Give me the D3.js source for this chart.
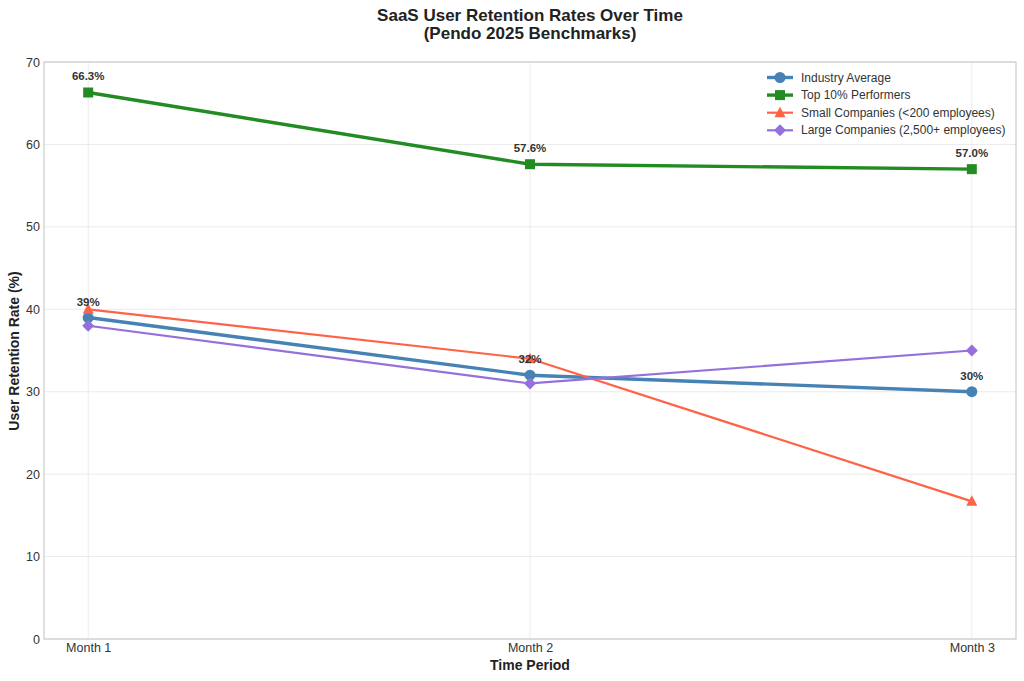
<!DOCTYPE html>
<html><head><meta charset="utf-8">
<script src="https://cdn.jsdelivr.net/npm/d3@7"></script>
<style>body{margin:0;background:#fff;}svg{display:block;font-family:"Liberation Sans",Arial,sans-serif;}</style>
</head><body><svg id="c" width="1024" height="681"></svg>
<script>
const categories = ["Month 1", "Month 2", "Month 3"];
const industryAvg = [39, 32, 30];
const top10 = [66.3, 57.6, 57.0];
const smallCo = [40, 34, 16.7];
const largeCo = [38, 31, 35];
const yTicks = [0, 10, 20, 30, 40, 50, 60, 70];
const seriesNames = ["Industry Average", "Top 10% Performers", "Small Companies (<200 employees)", "Large Companies (2,500+ employees)"];
const industryLabels = ["39%", "32%", "30%"];
const top10Labels = ["66.3%", "57.6%", "57.0%"];

const series = [
  {name: seriesNames[0], values: industryAvg, color: "#4682B4", width: 3.4, marker: "circle"},
  {name: seriesNames[1], values: top10, color: "#228B22", width: 3.4, marker: "square"},
  {name: seriesNames[2], values: smallCo, color: "#FF6347", width: 2.2, marker: "triangle"},
  {name: seriesNames[3], values: largeCo, color: "#9370DB", width: 2.2, marker: "diamond"}
];

const svg = d3.select("#c");
const L = 44, R = 1016, T = 62, B = 639;
const x = d3.scaleLinear().domain([-0.1, 2.1]).range([L, R]);
const y = d3.scaleLinear().domain([0, 70]).range([B, T]);

// grid
svg.append("g").selectAll("line").data(yTicks).join("line")
  .attr("x1", L).attr("x2", R).attr("y1", d => y(d)).attr("y2", d => y(d))
  .attr("stroke", "#ebebeb").attr("stroke-width", 1);
svg.append("g").selectAll("line").data(categories).join("line")
  .attr("x1", (d, i) => x(i)).attr("x2", (d, i) => x(i)).attr("y1", T).attr("y2", B)
  .attr("stroke", "#ebebeb").attr("stroke-width", 1);

// axes
const yAxis = d3.axisLeft(y).tickValues(yTicks).tickSize(0).tickPadding(4);
const gy = svg.append("g").attr("transform", `translate(${L},0)`).call(yAxis);
gy.select(".domain").remove();
gy.selectAll("text").attr("font-size", 12.5).attr("fill", "#333").attr("font-family", "Liberation Sans, Arial, sans-serif");
const xAxis = d3.axisBottom(x).tickValues([0, 1, 2]).tickFormat(i => categories[i]).tickSize(0).tickPadding(4);
const gx = svg.append("g").attr("transform", `translate(0,${B})`).call(xAxis);
gx.select(".domain").remove();
gx.selectAll("text").attr("font-size", 12.5).attr("fill", "#333").attr("font-family", "Liberation Sans, Arial, sans-serif");

// frame
svg.append("rect").attr("x", L).attr("y", T).attr("width", R - L).attr("height", B - T)
  .attr("fill", "none").attr("stroke", "#cccccc").attr("stroke-width", 1.2);

function drawMarker(g, type, cx, cy, color) {
  if (type === "circle") g.append("circle").attr("cx", cx).attr("cy", cy).attr("r", 5.5).attr("fill", color);
  else if (type === "square") g.append("rect").attr("x", cx - 5).attr("y", cy - 5).attr("width", 10).attr("height", 10).attr("fill", color);
  else if (type === "triangle") g.append("path").attr("d", `M${cx},${cy-6}L${cx+5.5},${cy+4.5}L${cx-5.5},${cy+4.5}Z`).attr("fill", color);
  else if (type === "diamond") g.append("path").attr("d", `M${cx},${cy-6}L${cx+6},${cy}L${cx},${cy+6}L${cx-6},${cy}Z`).attr("fill", color);
}

const line = d3.line().x((d, i) => x(i)).y(d => y(d));
series.forEach(s => {
  const g = svg.append("g");
  g.append("path").datum(s.values).attr("d", line).attr("fill", "none")
    .attr("stroke", s.color).attr("stroke-width", s.width).attr("stroke-linejoin", "round");
  s.values.forEach((v, i) => drawMarker(g, s.marker, x(i), y(v), s.color));
});

// data labels
const lab = svg.append("g").attr("font-size", 11.5).attr("font-weight", "bold").attr("fill", "#333").attr("text-anchor", "middle");
top10.forEach((v, i) => lab.append("text").attr("x", x(i)).attr("y", y(v) - 12).text(top10Labels[i]));
industryAvg.forEach((v, i) => lab.append("text").attr("x", x(i)).attr("y", y(v) - 12).text(industryLabels[i]));

// legend
const lg = svg.append("g");
series.forEach((s, i) => {
  const ly = 77.5 + i * 17.6;
  lg.append("line").attr("x1", 767).attr("x2", 793).attr("y1", ly).attr("y2", ly).attr("stroke", s.color).attr("stroke-width", s.width);
  drawMarker(lg, s.marker, 780, ly, s.color);
  lg.append("text").attr("x", 801).attr("y", ly + 4).attr("font-size", 12).attr("fill", "#333").text(s.name);
});

// titles
svg.append("text").attr("x", 530).attr("y", 20.5).attr("text-anchor", "middle").attr("font-size", 17).attr("font-weight", "bold").attr("fill", "#222").text("SaaS User Retention Rates Over Time");
svg.append("text").attr("x", 530).attr("y", 39).attr("text-anchor", "middle").attr("font-size", 17).attr("font-weight", "bold").attr("fill", "#222").text("(Pendo 2025 Benchmarks)");
svg.append("text").attr("x", 530).attr("y", 670).attr("text-anchor", "middle").attr("font-size", 14).attr("font-weight", "bold").attr("fill", "#222").text("Time Period");
svg.append("text").attr("transform", "translate(19,351) rotate(-90)").attr("text-anchor", "middle").attr("font-size", 14).attr("font-weight", "bold").attr("fill", "#222").text("User Retention Rate (%)");
</script></body></html>
